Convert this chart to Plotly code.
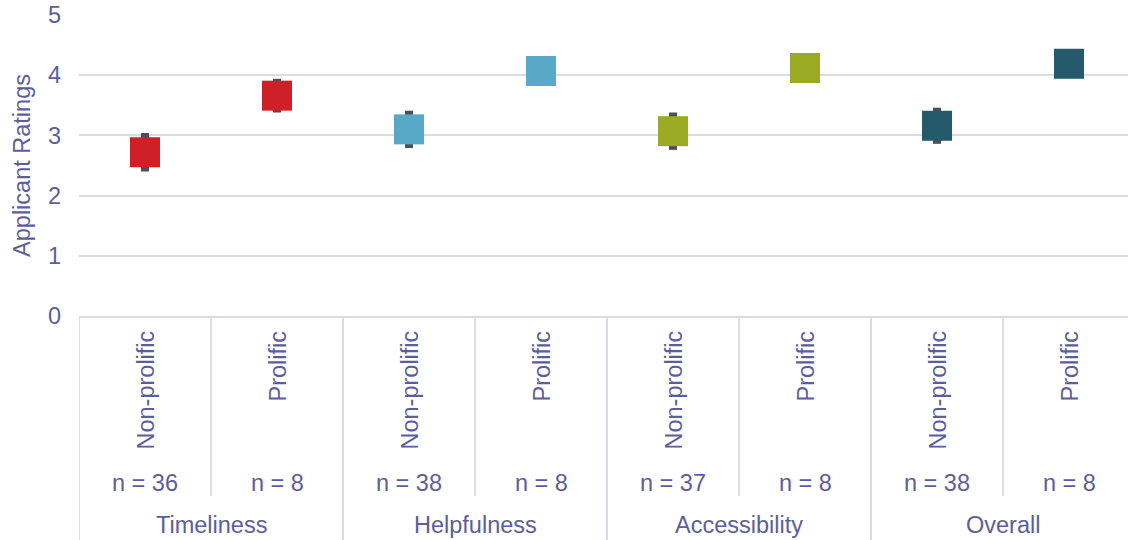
import plotly.graph_objects as go

# ---- data ----
groups = ["Timeliness", "Helpfulness", "Accessibility", "Overall"]
subgroups = ["Non-prolific", "Prolific"]
n_labels = ["n = 36", "n = 8", "n = 38", "n = 8", "n = 37", "n = 8", "n = 38", "n = 8"]
means = [2.72, 3.66, 3.10, 4.07, 3.07, 4.12, 3.16, 4.19]
errors = [0.32, 0.28, 0.31, 0.2, 0.31, 0.2, 0.30, 0.2]
colors = ["#d02027", "#d02027", "#58a9c8", "#58a9c8",
          "#9aab23", "#9aab23", "#245a6c", "#245a6c"]
y_ticks = [0, 1, 2, 3, 4, 5]

TEXT = "#5c5e9c"
GRID = "#d9dde2"
FONT = "Arial, Liberation Sans, sans-serif"
FS = 23.5

cat_labels = [s for g in groups for s in subgroups]
xs = list(range(len(cat_labels)))

fig = go.Figure()
fig.add_trace(go.Scatter(
    x=xs, y=means, mode="markers",
    marker=dict(symbol="square", size=30, color=colors, line=dict(width=0)),
    error_y=dict(type="data", array=errors, visible=True,
                 color="#4b4f5c", thickness=8, width=0),
    showlegend=False, hoverinfo="skip",
))

W, H = 1128, 540
ml, mt, mb = 79, 15, 224
plot_h = H - mt - mb
cat_w = 132
x_end = -0.5 + (W - ml) / cat_w

annotations = []
for i, lab in enumerate(cat_labels):
    annotations.append(dict(x=i, y=0, xref="x", yref="paper", text=lab,
                            textangle=-90, showarrow=False, xanchor="center",
                            yanchor="top", yshift=-13,
                            font=dict(family=FONT, size=FS, color=TEXT)))
    annotations.append(dict(x=i, y=0, xref="x", yref="paper", text=n_labels[i],
                            showarrow=False, xanchor="center", yanchor="middle",
                            yshift=-167,
                            font=dict(family=FONT, size=FS, color=TEXT)))
for gi, g in enumerate(groups):
    annotations.append(dict(x=gi * 2 + 0.5, y=0, xref="x", yref="paper", text=g,
                            showarrow=False, xanchor="center", yanchor="middle",
                            yshift=-209,
                            font=dict(family=FONT, size=FS, color=TEXT)))

shapes = []
for b in range(len(cat_labels)):
    xb = b - 0.5
    is_group = (b % 2 == 0)
    y1 = -(mb) / plot_h if is_group else -180 / plot_h
    shapes.append(dict(type="line", xref="x", yref="paper", x0=xb, x1=xb,
                       y0=0, y1=y1, line=dict(color=GRID, width=2)))

fig.update_layout(
    width=W, height=H,
    margin=dict(l=ml, r=0, t=mt, b=mb, autoexpand=False),
    plot_bgcolor="white", paper_bgcolor="white",
    font=dict(family=FONT, size=FS, color=TEXT),
    xaxis=dict(range=[-0.5, x_end], showgrid=False, zeroline=False,
               showticklabels=False, ticks="", showline=True, automargin=False,
               linecolor=GRID, linewidth=2, fixedrange=True),
    yaxis=dict(range=[0, 5], tickvals=y_ticks, showgrid=True, gridcolor=GRID,
               gridwidth=2, zeroline=False, showline=False, ticks="",
               ticklabelstandoff=17, automargin=False,
               tickfont=dict(family=FONT, size=FS, color=TEXT),
               title=dict(text="Applicant Ratings", standoff=10,
                          font=dict(family=FONT, size=FS, color=TEXT))),
    annotations=annotations,
    shapes=shapes,
)

fig.write_html("out.html", config={"displayModeBar": False},
               post_script="document.body.style.margin='0px';document.body.style.overflow='hidden';")
